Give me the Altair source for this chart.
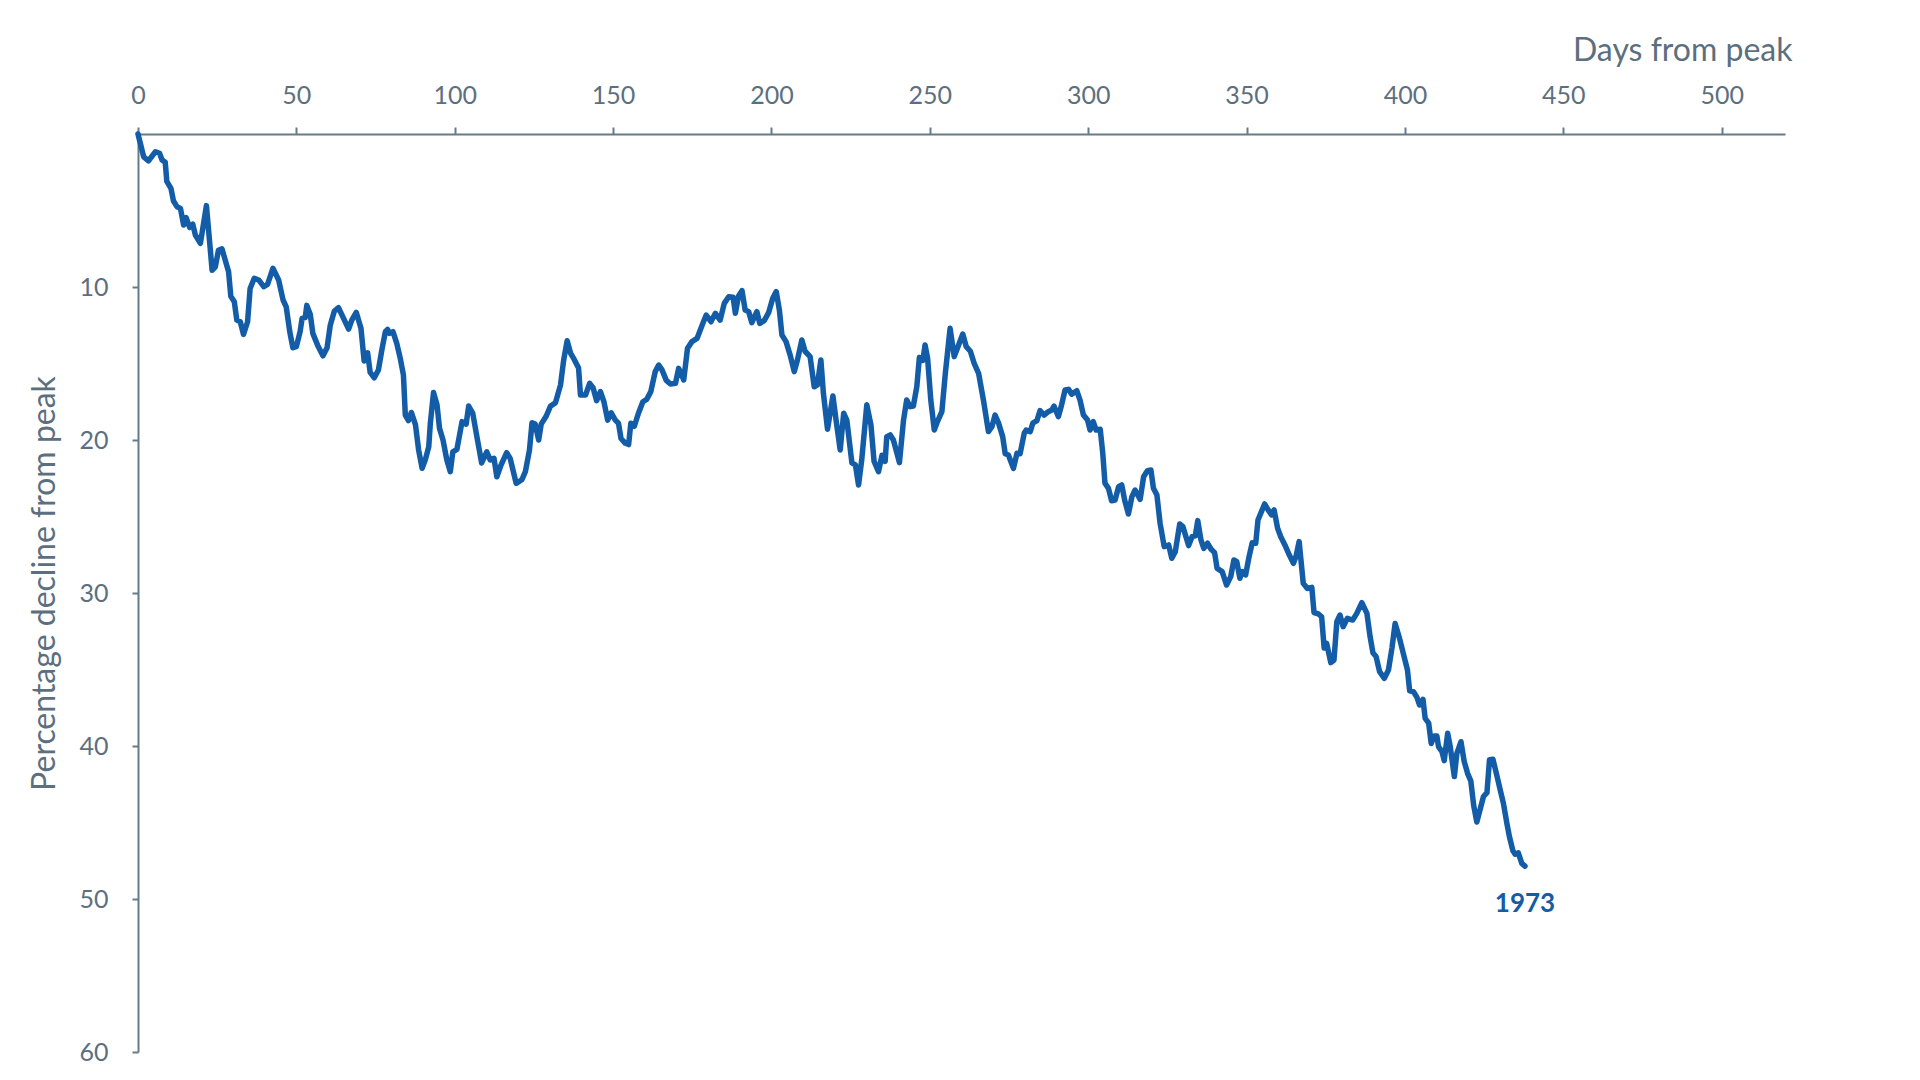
import altair as alt
import pandas as pd

# Trading days since the market peak and percentage decline from that peak (1973 bear market)
days = [
    0, 1.8, 3.3, 5.5, 6.8, 7.6, 8.6, 9.1, 10.4, 11.2, 12.3, 13.4, 14.4, 15.2, 16.3, 17.3, 18.1, 19.7, 21.6,
    23.4, 24.4, 25.4, 26.5, 28.6, 29.3, 30.4, 31.2, 32.3, 33.3, 34.6, 35.4, 36.7, 38.1, 39.7, 40.9, 42.6,
    44.4, 45.8, 46.8, 47.9, 48.9, 50.0, 51.2, 51.8, 52.8, 53.3, 54.4, 55.2, 56.7, 58.4, 59.7, 60.7, 62.0,
    63.3, 64.9, 66.5, 67.5, 68.9, 70.4, 71.4, 72.5, 73.3, 74.6,
    75.9, 77.0, 78.1, 78.8, 79.4, 80.5, 81.7, 82.8, 83.8, 84.4, 85.4, 86.3, 87.6, 88.6, 89.7, 90.7, 91.8,
    92.3, 93.3, 94.4, 95.2, 96.3, 97.5, 98.6, 99.4, 100.7, 102.3, 103.6, 104.4, 105.7, 106.8, 108.5, 110.1,
    111.2, 112.4, 113.3, 114.6, 116.4, 117.5, 119.4, 121.2, 122.3, 123.6, 124.4, 125.4, 126.5, 127.3, 128.9,
    130.2, 131.8, 133.4, 134.4, 135.5, 136.6, 137.8, 139.1, 139.7, 141.3, 142.6, 143.7, 144.8, 146.0, 147.1,
    148.3, 149.4,
    150.7, 151.7, 152.5, 153.8, 154.9, 155.6, 156.7, 158.0, 159.4, 160.6, 161.9, 163.3, 164.4, 165.4, 166.8,
    168.1, 169.7, 170.7, 171.4, 172.3, 173.5, 174.9, 176.5, 178.1, 179.4, 180.9, 182.3, 183.8, 185.1, 186.5,
    187.9, 188.6, 189.6, 190.7, 191.7, 192.8, 193.8, 195.4, 196.3, 197.7, 199.1, 200.4, 201.5, 202.5, 203.3,
    204.6, 205.9, 207.2, 208.2, 209.6, 210.6, 212.2, 213.5, 214.5, 215.6, 216.4, 217.7, 219.4, 220.4, 221.7,
    222.8, 223.8, 225.4, 226.5, 227.5,
    228.5, 230.1, 231.4, 232.4, 233.8, 234.9, 235.9, 236.4, 237.5, 238.5, 240.4, 241.7, 242.7, 243.8, 244.8,
    245.9, 246.7, 247.8, 248.5, 249.3, 250.3, 251.4, 252.4, 253.8, 254.9, 256.4, 257.7, 258.7, 260.4, 261.5,
    262.8, 264.0, 265.4, 267.0, 268.5, 269.6, 270.6, 271.7, 273.0, 273.8, 274.8, 276.4, 277.5, 278.5, 279.8,
    280.4, 281.7, 282.5, 283.8, 284.8, 286.1, 287.4, 288.5, 289.2, 290.6, 291.6, 292.7, 293.8, 294.8, 296.4,
    297.4, 298.5, 299.8,
    300.6, 301.6, 302.5, 303.8, 304.6, 305.3, 306.4, 307.4, 308.5, 309.6, 310.6, 311.5, 312.7, 313.8, 314.8,
    316.4, 317.5, 318.7, 319.8, 320.6, 321.7, 322.7, 324.0, 325.4, 326.4, 327.5, 328.9, 329.9, 331.7, 332.8,
    333.8, 334.6, 335.6, 336.5, 337.7, 338.8, 339.9, 340.7, 342.3, 343.7, 345.0, 346.0, 346.9, 347.9, 348.7,
    349.7, 350.8, 351.8, 352.9, 353.6, 354.7, 355.7, 356.8, 357.9, 358.7, 359.8, 360.8, 362.1, 363.5, 364.8,
    365.6, 366.6,
    367.9, 369.2, 370.6, 371.3, 372.7, 373.7, 374.5, 375.3, 376.6, 377.6, 378.5, 379.5, 380.5, 381.8, 383.5,
    384.8, 386.4, 388.0, 389.0, 389.9, 390.9, 392.0, 393.5, 394.8, 395.9, 396.9, 398.3, 399.6, 400.8, 401.5,
    402.7, 403.8, 404.6, 405.7, 406.4, 407.5, 408.3, 409.2, 410.1, 410.6, 411.7, 412.4, 413.5, 414.3, 415.6,
    416.4, 417.7, 418.7, 419.8, 420.8, 421.7, 422.7, 423.8, 424.8, 425.9, 426.7, 427.8, 429.0, 430.1, 431.1,
    432.2, 433.0, 434.1, 434.8, 435.8, 436.9, 437.9,
]

decline = [
    0, 1.5, 1.76, 1.16, 1.26, 1.7, 1.85, 3.1, 3.55, 4.38, 4.75, 4.86, 5.95, 5.47, 6.1, 5.9, 6.6, 7.15, 4.68,
    8.9, 8.7, 7.6, 7.5, 9.0, 10.6, 10.96, 12.16, 12.27, 13.1, 12.27, 10.1, 9.43, 9.54, 9.98, 9.83, 8.78,
    9.54, 10.85, 11.3, 12.9, 13.97, 13.9, 12.9, 12.05, 12.0, 11.2, 11.8, 13.03, 13.8, 14.5, 13.97, 12.5, 11.57,
    11.35, 12.05, 12.75, 12.16, 11.66, 12.7, 14.84, 14.3, 15.58, 15.93,
    15.42, 14.1, 12.92, 12.77, 13.03, 12.92, 13.68, 14.66, 15.75, 18.37, 18.74, 18.2, 19.0, 20.65, 21.85, 21.3, 20.44,
    18.9, 16.9, 17.7, 19.24, 20.0, 21.3, 22.07, 20.77, 20.61, 18.8, 18.96, 17.78, 18.26, 19.56, 21.5, 20.77,
    21.3, 21.2, 22.4, 21.64, 20.83, 21.2, 22.83, 22.6, 22.07, 20.65, 18.87, 18.96, 20.0, 18.96, 18.43,
    17.8, 17.56, 16.4, 14.77, 13.51, 14.34, 14.77, 15.3, 17.06, 17.06, 16.3, 16.6, 17.43, 16.84, 17.5,
    18.7, 18.22,
    18.7, 18.9, 19.9, 20.2, 20.3, 18.9, 19.1, 18.25, 17.5, 17.35, 16.84, 15.53, 15.1, 15.4, 16.1,
    16.34, 16.3, 15.32, 15.6, 16.08, 14.0, 13.57, 13.36, 12.5, 11.83, 12.27, 11.72, 12.16, 11.07, 10.63,
    10.67, 11.72, 10.59, 10.24, 11.5, 11.61, 12.33, 11.61, 12.38, 12.2, 11.68, 10.74, 10.3, 11.5, 13.14,
    13.57, 14.45, 15.53, 14.77, 13.46, 14.2, 14.55, 16.52, 16.4, 14.77, 16.95, 19.3, 17.12, 18.7, 20.65,
    18.25, 18.7, 21.5, 21.63, 22.94,
    21.3, 17.7, 19.0, 21.4, 22.07, 21.0, 21.4, 19.78, 19.67, 20.0, 21.48, 18.7, 17.38, 17.82, 17.78,
    16.5, 14.6, 14.8, 13.79, 14.66, 17.38, 19.35, 18.8, 18.15, 15.64, 12.7, 14.55, 14.0, 13.07, 13.9,
    14.2, 14.99, 15.64, 17.49, 19.45, 19.13, 18.37, 18.9, 19.78, 20.9, 20.98, 21.85, 20.87, 20.9, 19.56,
    19.35, 19.45, 18.9, 18.74, 18.08, 18.37, 18.15, 18.04, 17.78, 18.47, 17.71, 16.73, 16.69, 17.0, 16.78,
    17.38, 18.37, 18.7,
    19.35, 18.8, 19.35, 19.3, 20.87, 22.83, 23.16, 23.97, 23.92, 23.05, 22.94, 23.92, 24.84, 23.7, 23.27,
    23.88, 22.4, 22.0, 21.96, 23.16, 23.6, 25.45, 26.97, 26.86, 27.73, 27.3, 25.49, 25.66, 26.9, 26.32,
    26.27, 25.27, 26.53, 27.08, 26.75, 27.14, 27.36, 28.39, 28.6, 29.48, 28.93, 27.84, 27.95, 29.04, 28.6,
    28.82, 27.62, 26.71, 26.75, 25.23, 24.68, 24.18, 24.57, 24.9, 24.57, 25.77, 26.32, 26.86, 27.52, 28.06,
    27.62, 26.64,
    29.37, 29.7, 29.63, 31.28, 31.37, 31.55, 33.6, 33.3, 34.55, 34.38, 31.88, 31.44, 32.2, 31.66, 31.77,
    31.33, 30.63, 31.33, 32.85, 33.9, 34.16, 35.14, 35.58, 35.03, 33.6, 32.0, 32.96, 34.05, 35.03, 36.4,
    36.45, 36.82, 37.32, 36.95, 38.2, 38.5, 39.83, 39.35, 39.35, 40.04, 40.37, 40.96, 39.17, 40.04, 42.0,
    40.48, 39.72, 41.0, 41.8, 42.28, 43.87, 44.97, 44.1, 43.3, 43.05, 40.9, 40.87, 41.9, 42.88, 43.75,
    45.06, 45.93, 46.85, 47.07, 46.98, 47.67, 47.85,
]

series_label = ["1973"]
x_ticks = [0, 50, 100, 150, 200, 250, 300, 350, 400, 450, 500]
y_ticks = [10, 20, 30, 40, 50, 60]

df = pd.DataFrame({"day": days, "decline": decline})
lab = pd.DataFrame({"day": [days[-1]], "decline": [decline[-1]], "label": series_label})

BLUE = "#135ca8"
AX = "#667b8a"
TX = "#5c6f7e"
FONT = "Lato"

W, H = 1647, 918

x_enc = alt.X(
    "day:Q",
    scale=alt.Scale(domain=[0, 520], nice=False, zero=False),
    axis=alt.Axis(
        orient="top",
        values=x_ticks,
        title="Days from peak",
        titleX=1654,
        titleY=-74,
        titleAlign="right",
        titleBaseline="alphabetic",
        labelPadding=19,
        labelFlush=False,
        tickSize=7,
    ),
)
y_enc = alt.Y(
    "decline:Q",
    scale=alt.Scale(domain=[0, 60], reverse=True, nice=False, zero=False),
    axis=alt.Axis(
        values=y_ticks,
        title="Percentage decline from peak",
        titleX=-94,
        titleY=449,
        titleAngle=270,
        titleAlign="center",
        titleBaseline="middle",
        labelPadding=24,
        labelFlush=False,
        tickSize=6,
    ),
)

line = alt.Chart(df).mark_line(
    color=BLUE, strokeWidth=5.5, strokeJoin="round", strokeCap="round"
).encode(x=x_enc, y=y_enc)

text = alt.Chart(lab).mark_text(
    color=BLUE, font=FONT, fontWeight="bold", fontSize=26,
    align="center", baseline="middle", dy=38,
).encode(x="day:Q", y="decline:Q", text="label:N")

chart = (
    alt.layer(line, text)
    .properties(
        width=W,
        height=H,
        autosize="none",
        padding={"left": 130, "top": 126, "right": 100, "bottom": 20},
    )
    .configure_view(strokeWidth=0)
    .configure_axis(
        grid=False,
        domainColor=AX,
        tickColor=AX,
        domainWidth=2,
        tickWidth=2,
        labelColor=TX,
        titleColor=TX,
        labelFont=FONT,
        titleFont=FONT,
        labelFontSize=25,
        titleFontSize=32,
        titleFontWeight="normal",
    )
)

chart.save("out.html", embed_options={"renderer": "svg", "actions": False})
